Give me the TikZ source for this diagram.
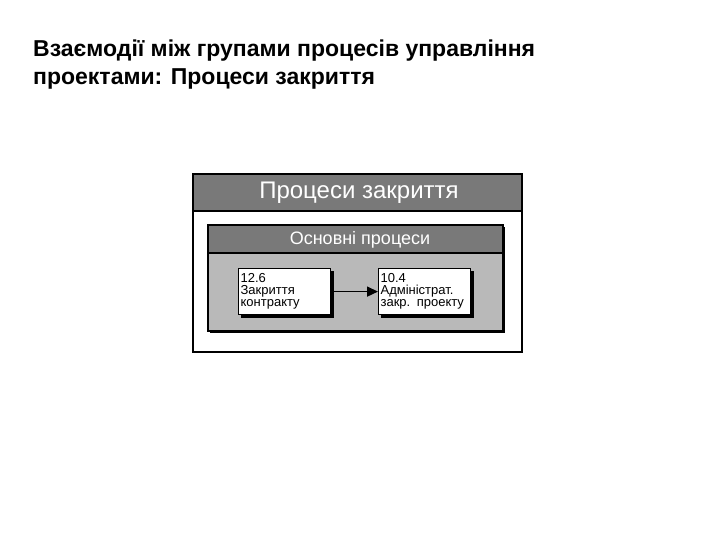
\documentclass[tikz,border=0pt]{standalone}
\usepackage{fontspec}
\setmainfont{Liberation Sans}
\usetikzlibrary{arrows.meta}
\begin{document}
\begin{tikzpicture}[x=1pt,y=-1pt,
  proc/.style={draw=black,line width=1.2pt,fill=white,minimum width=92pt,minimum height=46pt,anchor=north west,align=left,inner sep=2pt,font=\fontsize{13}{12}\selectfont,text width=88pt},
  shadow/.style={fill=black}]
\useasboundingbox (0,0) rectangle (720,540);
\node[anchor=north west,align=left,inner sep=0pt,font=\bfseries\fontsize{23}{28}\selectfont] (title) at (33,40) {Взаємодії між групами процесів управління\\проектами: Процеси закриття};
% outer
\draw[line width=1.5pt,fill=white] (193,174) rectangle (522,352);
\fill[gray!95!black] (194,175) rectangle (521,210);
\draw[line width=1.5pt] (193,211) -- (522,211);
\node[text=white,font=\fontsize{24}{24}\selectfont] (hdr) at (359,192.5) {Процеси закриття};
% inner
\fill[black] (210,227) rectangle (505,333);
\draw[line width=1.5pt,fill=gray!55] (208,225) rectangle (503,331);
\fill[gray!95!black] (209,226) rectangle (502,252);
\draw[line width=1.5pt] (208,253) -- (503,253);
\node[text=white,font=\fontsize{18}{18}\selectfont] (sub) at (360,240) {Основні процеси};
% boxes
\fill[shadow] (241,271) rectangle (334,318);
\fill[shadow] (381,271) rectangle (474,318);
\node[proc] (a) at (238,268) {12.6\\Закриття\\контракту};
\node[proc] (b) at (378,268) {10.4\\Адміністрат.\\закр. проекту};
\draw[line width=1.5pt,-{Triangle[length=11pt,width=10pt]}] (a.east) -- (b.west);
\end{tikzpicture}
\end{document}
